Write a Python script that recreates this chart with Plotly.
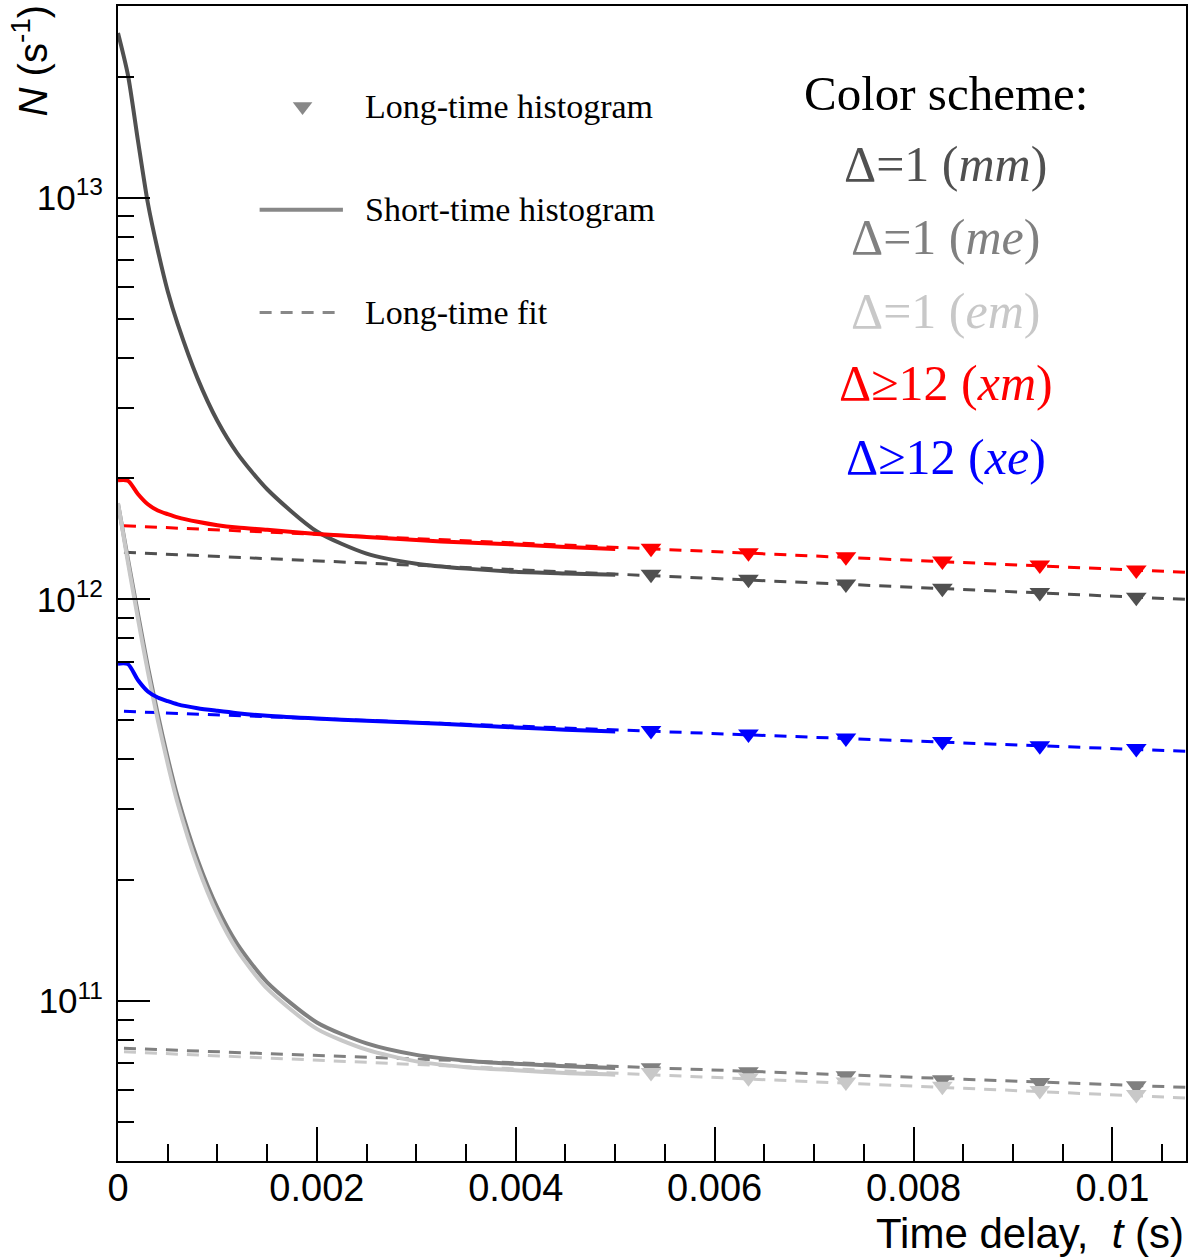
import plotly.graph_objects as go

# Short-time histograms (solid), t in seconds, rates in s^-1
t_short = [0, 0.0001, 0.0002, 0.0003, 0.0004, 0.0005, 0.0006, 0.0008, 0.001,
           0.0012, 0.0015, 0.002, 0.0025, 0.003, 0.0035, 0.004, 0.0045, 0.005]
short_mm = [2.57e13, 2.02e13, 1.39e13, 9.7e12, 7.4e12, 5.85e12, 4.85e12, 3.55e12, 2.78e12,
            2.31e12, 1.88e12, 1.476e12, 1.30e12, 1.227e12, 1.193e12, 1.171e12, 1.16e12, 1.151e12]
short_me = [1.73e12, 1.259e12, 9.23e11, 6.81e11, 5.18e11, 4.03e11, 3.22e11, 2.25e11, 1.706e11,
            1.387e11, 1.114e11, 8.85e10, 7.85e10, 7.35e10, 7.11e10, 6.98e10, 6.89e10, 6.82e10]
short_em = [1.738e12, 1.236e12, 8.97e11, 6.61e11, 5.01e11, 3.90e11, 3.11e11, 2.17e11, 1.644e11,
            1.337e11, 1.074e11, 8.53e10, 7.57e10, 7.08e10, 6.85e10, 6.73e10, 6.62e10, 6.56e10]
short_xm = [1.98e12, 1.975e12, 1.83e12, 1.725e12, 1.665e12, 1.63e12, 1.60e12, 1.56e12, 1.53e12,
            1.51e12, 1.49e12, 1.455e12, 1.43e12, 1.405e12, 1.385e12, 1.37e12, 1.35e12, 1.335e12]
short_xe = [6.92e11, 6.9e11, 6.3e11, 5.9e11, 5.7e11, 5.58e11, 5.48e11, 5.36e11, 5.28e11,
            5.21e11, 5.13e11, 5.05e11, 4.99e11, 4.93e11, 4.87e11, 4.8e11, 4.74e11, 4.69e11]

# Long-time histograms (markers)
t_long = [0.00536, 0.00634, 0.00732, 0.00829, 0.00927, 0.01024]
long_mm = [1.155e12, 1.122e12, 1.093e12, 1.066e12, 1.041e12, 1.012e12]
long_me = [6.83e10, 6.67e10, 6.52e10, 6.37e10, 6.27e10, 6.16e10]
long_em = [6.64e10, 6.45e10, 6.29e10, 6.14e10, 5.99e10, 5.86e10]
long_xm = [1.340e12, 1.307e12, 1.277e12, 1.246e12, 1.218e12, 1.184e12]
long_xe = [4.714e11, 4.622e11, 4.517e11, 4.432e11, 4.325e11, 4.252e11]

# Long-time exponential fits (dashed), end points
t_fit = [0.00006, 0.01074]
fit_mm = [1.31e12, 1.0e12]
fit_me = [7.63e10, 6.10e10]
fit_em = [7.48e10, 5.74e10]
fit_xm = [1.525e12, 1.168e12]
fit_xe = [5.264e11, 4.187e11]

series = [
    ("mm", "#505050", short_mm, long_mm, fit_mm),
    ("me", "#808080", short_me, long_me, fit_me),
    ("em", "#c8c8c8", short_em, long_em, fit_em),
    ("xm", "#ff0000", short_xm, long_xm, fit_xm),
    ("xe", "#0000ff", short_xe, long_xe, fit_xe),
]

scheme_labels = ["Δ=1 (<i>mm</i>)", "Δ=1 (<i>me</i>)", "Δ=1 (<i>em</i>)",
                 "Δ≥12 (<i>xm</i>)", "Δ≥12 (<i>xe</i>)"]

x_tickvals = [0, 0.002, 0.004, 0.006, 0.008, 0.01]
x_ticktext = ["0", "0.002", "0.004", "0.006", "0.008", "0.01"]
y_tickvals = [1e11, 1e12, 1e13]
y_ticktext = ["10<sup>11</sup>", "10<sup>12</sup>", "10<sup>13</sup>"]
y_minor = [m * 10 ** e for e in (10, 11, 12, 13) for m in range(2, 10)
           if 5e10 <= m * 10 ** e <= 2e13]

SANS = "Liberation Sans, Arial, Helvetica, sans-serif"
SERIF = "Liberation Serif, Times New Roman, serif"

fig = go.Figure()

for name, color, s, l, f in series:
    fig.add_trace(go.Scatter(x=t_fit, y=f, mode="lines", name=name + " fit",
                             line=dict(color=color, width=3, dash="12px,9px"),
                             showlegend=False))
for name, color, s, l, f in series:
    fig.add_trace(go.Scatter(x=t_short, y=s, mode="lines", name=name + " short",
                             line=dict(color=color, width=4, shape="spline", smoothing=0.7),
                             showlegend=False))
for name, color, s, l, f in series:
    fig.add_trace(go.Scatter(x=t_long, y=l, mode="markers", name=name + " long",
                             marker=dict(symbol="triangle-down", size=18, color=color),
                             showlegend=False))

# Key samples on a hidden unit overlay
key_gray = "#888888"
fig.add_trace(go.Scatter(x=[0.1728], y=[0.913], mode="markers", xaxis="x2", yaxis="y2",
                         marker=dict(symbol="triangle-down", size=17, color=key_gray),
                         showlegend=False, hoverinfo="skip"))
fig.add_trace(go.Scatter(x=[0.1326, 0.2106], y=[0.8236, 0.8236], mode="lines",
                         xaxis="x2", yaxis="y2", line=dict(color=key_gray, width=4),
                         showlegend=False, hoverinfo="skip"))
fig.add_trace(go.Scatter(x=[0.1326, 0.2106], y=[0.7346, 0.7346], mode="lines",
                         xaxis="x2", yaxis="y2",
                         line=dict(color=key_gray, width=3, dash="12px,9px"),
                         showlegend=False, hoverinfo="skip"))

annotations = []
key_texts = ["Long-time histogram", "Short-time histogram", "Long-time fit"]
key_y = [0.913, 0.8236, 0.7346]
for txt, yy in zip(key_texts, key_y):
    annotations.append(dict(text=txt, x=0.229, y=yy, xref="paper", yref="paper",
                            xanchor="left", yanchor="middle", showarrow=False,
                            font=dict(family=SERIF, size=34, color="black")))

annotations.append(dict(text="Color scheme:", x=0.7752, y=0.9245, xref="paper", yref="paper",
                        xanchor="center", yanchor="middle", showarrow=False,
                        font=dict(family=SERIF, size=49, color="black")))
scheme_y = [0.8634, 0.8003, 0.7363, 0.6732, 0.6092]
for (name, color, s, l, f), lab, yy in zip(series, scheme_labels, scheme_y):
    annotations.append(dict(text=lab, x=0.7752, y=yy, xref="paper", yref="paper",
                            xanchor="center", yanchor="middle", showarrow=False,
                            font=dict(family=SERIF, size=50, color=color)))

# Axis titles
annotations.append(dict(text="<i>N</i> (s<sup>-1</sup>)", textangle=-90,
                        x=-0.082, y=1.0035, xref="paper", yref="paper",
                        xanchor="center", yanchor="top", showarrow=False,
                        font=dict(family=SANS, size=40, color="black")))
annotations.append(dict(text="Time delay,  <i>t</i> (s)", x=1.0, y=-0.0628,
                        xref="paper", yref="paper", xanchor="right", yanchor="middle",
                        showarrow=False, font=dict(family=SANS, size=42, color="black")))

fig.update_layout(
    width=1199, height=1258,
    margin=dict(l=118, r=13, t=4, b=97),
    paper_bgcolor="white", plot_bgcolor="white",
    showlegend=False,
    annotations=annotations,
    xaxis=dict(range=[0, 0.01074], tickmode="array", tickvals=x_tickvals, ticktext=x_ticktext,
               ticks="inside", ticklen=34, tickwidth=1.5, tickcolor="black",
               minor=dict(tick0=0, dtick=0.0005, ticks="inside", ticklen=17,
                          tickwidth=1.5, tickcolor="black", showgrid=False),
               showline=True, linewidth=2, linecolor="black", mirror=True,
               showgrid=False, zeroline=False, ticklabelstandoff=-8,
               tickfont=dict(family=SANS, size=38, color="black")),
    yaxis=dict(type="log", range=[10.60206, 13.47712], tickmode="array",
               tickvals=y_tickvals, ticktext=y_ticktext,
               ticks="inside", ticklen=32, tickwidth=1.5, tickcolor="black",
               minor=dict(tickmode="array", tickvals=y_minor, ticks="inside", ticklen=16,
                          tickwidth=1.5, tickcolor="black", showgrid=False),
               showline=True, linewidth=2, linecolor="black", mirror=True,
               showgrid=False, zeroline=False, ticklabelstandoff=6,
               tickfont=dict(family=SANS, size=35, color="black")),
    xaxis2=dict(range=[0, 1], overlaying="x", visible=False, fixedrange=True),
    yaxis2=dict(range=[0, 1], overlaying="y", visible=False, fixedrange=True),
)

fig.write_html("out.html")
